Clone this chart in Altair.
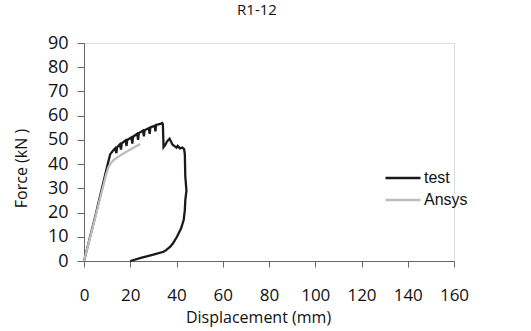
import altair as alt
import pandas as pd

# Test curve (displacement mm, force kN), in drawing order
test_x = [0, 5, 10, 11.3, 12.5, 13.5, 14.0, 14.3, 15.5, 16.0, 16.3, 18.0, 18.4, 18.7,
          20.5, 20.9, 21.2, 23.0, 23.4, 23.7, 25.5, 25.9, 26.2, 28.0, 28.4, 28.7,
          30.5, 30.9, 31.2, 33.0, 33.8, 34.1, 34.4, 35.2, 36.0, 37.0, 37.5, 38.3,
          39.0, 40.0, 40.5, 41.5, 42.5, 43.3, 43.6, 43.8, 44.3, 43.8, 43.6, 43.1,
          42.0, 40.2, 38.5, 37.3, 35.5, 34.4, 30.0, 25.0, 20.0]
test_y = [0, 19, 39, 44.0, 45.5, 46.5, 44.5, 47.0, 48.2, 46.0, 48.6, 49.8, 47.5, 50.0,
          51.0, 48.5, 51.3, 52.5, 50.0, 52.8, 53.8, 51.5, 54.0, 54.8, 52.5, 55.2,
          55.8, 53.5, 56.2, 56.6, 57.0, 56.5, 47.0, 48.0, 49.5, 50.5, 49.5, 48.0,
          47.5, 46.8, 47.5, 46.5, 46.8, 46.2, 44.0, 35.0, 29.0, 25.0, 21.0, 16.9,
          13.5, 10.0, 7.3, 5.9, 4.5, 3.8, 2.6, 1.4, 0.0]

# Ansys curve
ansys_x = [0, 5, 9.5, 10.5, 11.5, 13.0, 16.0, 20.0, 24.3]
ansys_y = [0, 18.5, 35.5, 38.5, 40.3, 41.8, 43.8, 46.0, 48.3]

series_names = ["test", "Ansys"]
series_colors = ["#1a1a1a", "#bdbdbd"]

x_ticks = [0, 20, 40, 60, 80, 100, 120, 140, 160]
y_ticks = [0, 10, 20, 30, 40, 50, 60, 70, 80, 90]

rows = []
for i, (x, y) in enumerate(zip(test_x, test_y)):
    rows.append({"series": "test", "x": x, "y": y, "order": i})
for i, (x, y) in enumerate(zip(ansys_x, ansys_y)):
    rows.append({"series": "Ansys", "x": x, "y": y, "order": i})
df = pd.DataFrame(rows)

label_font = "Open Sans"

chart = alt.Chart(df).mark_line(strokeWidth=2.3).encode(
    x=alt.X("x:Q",
            scale=alt.Scale(domain=[0, 160], nice=False, zero=True),
            axis=alt.Axis(values=x_ticks, title="Displacement (mm)", grid=False,
                          tickSize=6, labelPadding=20, labelFontSize=17,
                          labelOverlap=False, labelFlush=False,
                          labelFont=label_font, titleFont=label_font,
                          titleFontSize=16, titleFontWeight="normal",
                          titlePadding=0, titleX=174, titleY=48,
                          labelColor="#111", titleColor="#111",
                          domainColor="#666", tickColor="#666")),
    y=alt.Y("y:Q",
            scale=alt.Scale(domain=[0, 90], nice=False),
            axis=alt.Axis(values=y_ticks, title="Force (kN   )", grid=False,
                          tickSize=7, labelPadding=9, labelFontSize=18,
                          labelOverlap=False, labelFlush=False,
                          labelFont=label_font, titleFont=label_font,
                          titleFontSize=16, titleFontWeight="normal",
                          titleX=-58, titleY=125, titleBaseline="alphabetic",
                          labelColor="#111", titleColor="#111",
                          domainColor="#666", tickColor="#666")),
    color=alt.Color("series:N",
                    scale=alt.Scale(domain=series_names, range=series_colors),
                    legend=alt.Legend(title=None, orient="none", legendX=300,
                                      legendY=127, symbolType="stroke",
                                      symbolSize=1225, symbolStrokeWidth=2.5,
                                      clipHeight=16,
                                      labelFont="Liberation Sans",
                                      labelFontSize=16, labelColor="#111",
                                      rowPadding=6, labelOffset=2, padding=0)),
    order=alt.Order("order:Q"),
).properties(
    width=370,
    height=218,
    title=alt.TitleParams("R1-12", font=label_font, fontSize=15,
                          fontWeight="normal", color="#111", dx=-12, offset=16),
    autosize=alt.AutoSizeParams(type="none"),
    padding={"left": 84, "top": 43, "right": 77, "bottom": 70},
).configure_view(stroke=None).configure(background="white")

chart.save("out.html", embed_options={"renderer": "svg", "actions": False})
